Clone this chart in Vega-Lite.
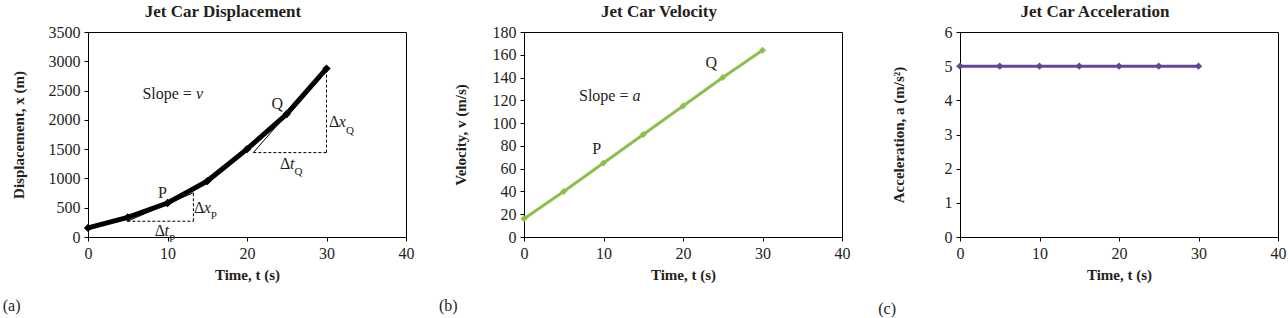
{
  "$schema": "https://vega.github.io/schema/vega-lite/v6.json",
  "padding": {"left": 2, "top": 2, "right": 3, "bottom": 1},
  "spacing": 118,
  "bounds": "flush",
  "datasets": {
    "disp": [
      {"t": 0, "v": 155}, {"t": 5, "v": 335}, {"t": 10, "v": 580}, {"t": 15, "v": 955},
      {"t": 20, "v": 1500}, {"t": 25, "v": 2100}, {"t": 30, "v": 2875}
    ],
    "vel": [
      {"t": 0, "v": 16}, {"t": 5, "v": 40}, {"t": 10, "v": 65}, {"t": 15, "v": 90},
      {"t": 20, "v": 115}, {"t": 25, "v": 140}, {"t": 30, "v": 164}
    ],
    "acc": [
      {"t": 0, "v": 5}, {"t": 5, "v": 5}, {"t": 10, "v": 5}, {"t": 15, "v": 5},
      {"t": 20, "v": 5}, {"t": 25, "v": 5}, {"t": 30, "v": 5}
    ],
    "dashA": [
      {"t": 4.95, "v": 269, "t2": 13.26, "v2": 269},
      {"t": 13.26, "v": 269, "t2": 13.26, "v2": 755},
      {"t": 20.8, "v": 1441, "t2": 30, "v2": 1441},
      {"t": 30, "v": 1441, "t2": 30, "v2": 2875}
    ],
    "tanA": [
      {"t": 4.95, "v": 269, "t2": 13.26, "v2": 755},
      {"t": 20.8, "v": 1441, "t2": 30, "v2": 2875}
    ],
    "labA": [
      {"t": 6.84, "v": 2443, "txt": "Slope = ", "s": "reg"},
      {"t": 13.57, "v": 2443, "txt": "v", "s": "ital"},
      {"t": 9.36, "v": 745, "txt": "P", "s": "ctr"},
      {"t": 23.8, "v": 2271, "txt": "Q", "s": "ctr"},
      {"t": 30.3, "v": 1956, "txt": "Δ", "s": "reg"},
      {"t": 31.55, "v": 1956, "txt": "x", "s": "ital"},
      {"t": 32.45, "v": 1816, "txt": "Q", "s": "sub"},
      {"t": 24.15, "v": 1242, "txt": "Δ", "s": "reg"},
      {"t": 25.4, "v": 1242, "txt": "t", "s": "ital"},
      {"t": 25.96, "v": 1102, "txt": "Q", "s": "sub"},
      {"t": 13.33, "v": 497, "txt": "Δ", "s": "reg"},
      {"t": 14.56, "v": 497, "txt": "x", "s": "ital"},
      {"t": 15.45, "v": 357, "txt": "P", "s": "sub"},
      {"t": 8.39, "v": 98, "txt": "Δ", "s": "reg"},
      {"t": 9.62, "v": 98, "txt": "t", "s": "ital"},
      {"t": 10.2, "v": -42, "txt": "P", "s": "sub"},
      {"t": -10.73, "v": -1180, "txt": "(a)", "s": "reg"}
    ],
    "labB": [
      {"t": 6.92, "v": 123.8, "txt": "Slope = ", "s": "reg"},
      {"t": 13.65, "v": 123.8, "txt": "a", "s": "ital"},
      {"t": 9.13, "v": 77.2, "txt": "P", "s": "ctr"},
      {"t": 23.56, "v": 152.9, "txt": "Q", "s": "ctr"},
      {"t": -10.69, "v": -60.6, "txt": "(b)", "s": "reg"}
    ],
    "labC": [
      {"t": -10.28, "v": -2.1, "txt": "(c)", "s": "reg"}
    ]
  },
  "hconcat": [
    {
      "width": 318, "height": 205,
      "title": "Jet Car Displacement",
      "encoding": {
        "x": {"field": "t", "type": "quantitative", "scale": {"domain": [0, 40], "nice": false},
              "axis": {"values": [0, 10, 20, 30, 40], "title": "Time, t (s)"}},
        "y": {"field": "v", "type": "quantitative", "scale": {"domain": [0, 3500], "nice": false},
              "axis": {"values": [0, 500, 1000, 1500, 2000, 2500, 3000, 3500], "format": "d", "title": "Displacement, x (m)", "titlePadding": 22}}
      },
      "layer": [
        {"data": {"name": "dashA"}, "mark": {"type": "rule", "strokeDash": [3, 2], "color": "black", "strokeWidth": 1},
         "encoding": {"x2": {"field": "t2"}, "y2": {"field": "v2"}}},
        {"data": {"name": "tanA"}, "mark": {"type": "rule", "color": "black", "strokeWidth": 1},
         "encoding": {"x2": {"field": "t2"}, "y2": {"field": "v2"}}},
        {"data": {"name": "disp"}, "mark": {"type": "line", "color": "black", "strokeWidth": 5,
          "point": {"shape": "diamond", "filled": true, "size": 70, "color": "black"}}, "encoding": {}},
        {"data": {"name": "labA"}, "transform": [{"filter": "datum.s == 'reg'"}],
         "mark": {"type": "text", "align": "left", "baseline": "middle"}, "encoding": {"text": {"field": "txt"}}},
        {"data": {"name": "labA"}, "transform": [{"filter": "datum.s == 'ctr'"}],
         "mark": {"type": "text", "align": "center", "baseline": "middle"}, "encoding": {"text": {"field": "txt"}}},
        {"data": {"name": "labA"}, "transform": [{"filter": "datum.s == 'ital'"}],
         "mark": {"type": "text", "align": "left", "baseline": "middle", "fontStyle": "italic"}, "encoding": {"text": {"field": "txt"}}},
        {"data": {"name": "labA"}, "transform": [{"filter": "datum.s == 'sub'"}],
         "mark": {"type": "text", "align": "left", "baseline": "middle", "fontSize": 11}, "encoding": {"text": {"field": "txt"}}}
      ]
    },
    {
      "width": 318, "height": 205,
      "title": "Jet Car Velocity",
      "encoding": {
        "x": {"field": "t", "type": "quantitative", "scale": {"domain": [0, 40], "nice": false},
              "axis": {"values": [0, 10, 20, 30, 40], "title": "Time, t (s)"}},
        "y": {"field": "v", "type": "quantitative", "scale": {"domain": [0, 180], "nice": false},
              "axis": {"values": [0, 20, 40, 60, 80, 100, 120, 140, 160, 180], "title": "Velocity, v (m/s)", "titlePadding": 24}}
      },
      "layer": [
        {"data": {"name": "vel"}, "mark": {"type": "line", "color": "#8cc04b", "strokeWidth": 3,
          "point": {"shape": "diamond", "filled": true, "size": 50, "color": "#8cc04b"}}, "encoding": {}},
        {"data": {"name": "labB"}, "transform": [{"filter": "datum.s == 'reg'"}],
         "mark": {"type": "text", "align": "left", "baseline": "middle"}, "encoding": {"text": {"field": "txt"}}},
        {"data": {"name": "labB"}, "transform": [{"filter": "datum.s == 'ctr'"}],
         "mark": {"type": "text", "align": "center", "baseline": "middle"}, "encoding": {"text": {"field": "txt"}}},
        {"data": {"name": "labB"}, "transform": [{"filter": "datum.s == 'ital'"}],
         "mark": {"type": "text", "align": "left", "baseline": "middle", "fontStyle": "italic"}, "encoding": {"text": {"field": "txt"}}}
      ]
    },
    {
      "width": 318, "height": 205,
      "title": "Jet Car Acceleration",
      "encoding": {
        "x": {"field": "t", "type": "quantitative", "scale": {"domain": [0, 40], "nice": false},
              "axis": {"values": [0, 10, 20, 30, 40], "title": "Time, t (s)"}},
        "y": {"field": "v", "type": "quantitative", "scale": {"domain": [0, 6], "nice": false},
              "axis": {"values": [0, 1, 2, 3, 4, 5, 6], "title": "Acceleration, a (m/s²)", "titlePadding": 38}}
      },
      "layer": [
        {"data": {"name": "acc"}, "mark": {"type": "line", "color": "#60479a", "strokeWidth": 3,
          "point": {"shape": "diamond", "filled": true, "size": 55, "color": "#60479a"}}, "encoding": {}},
        {"data": {"name": "labC"}, "transform": [{"filter": "datum.s == 'reg'"}],
         "mark": {"type": "text", "align": "left", "baseline": "middle"}, "encoding": {"text": {"field": "txt"}}}
      ]
    }
  ],
  "config": {
    "view": {"stroke": "black", "strokeWidth": 1},
    "axis": {"grid": false, "domainColor": "black", "tickColor": "black", "tickSize": 4,
             "labelFont": "Liberation Serif", "labelFontSize": 16, "labelColor": "#231f20", "labelPadding": 4,
             "titleFont": "Liberation Serif", "titleFontSize": 15, "titleFontWeight": "bold", "titleColor": "#231f20"},
    "axisX": {"titlePadding": 6, "labelFlush": false},
    "title": {"font": "Liberation Serif", "fontSize": 17, "fontWeight": "bold", "color": "#231f20", "dx": -24, "offset": 3},
    "text": {"font": "Liberation Serif", "fontSize": 16, "color": "#231f20"}
  }
}
